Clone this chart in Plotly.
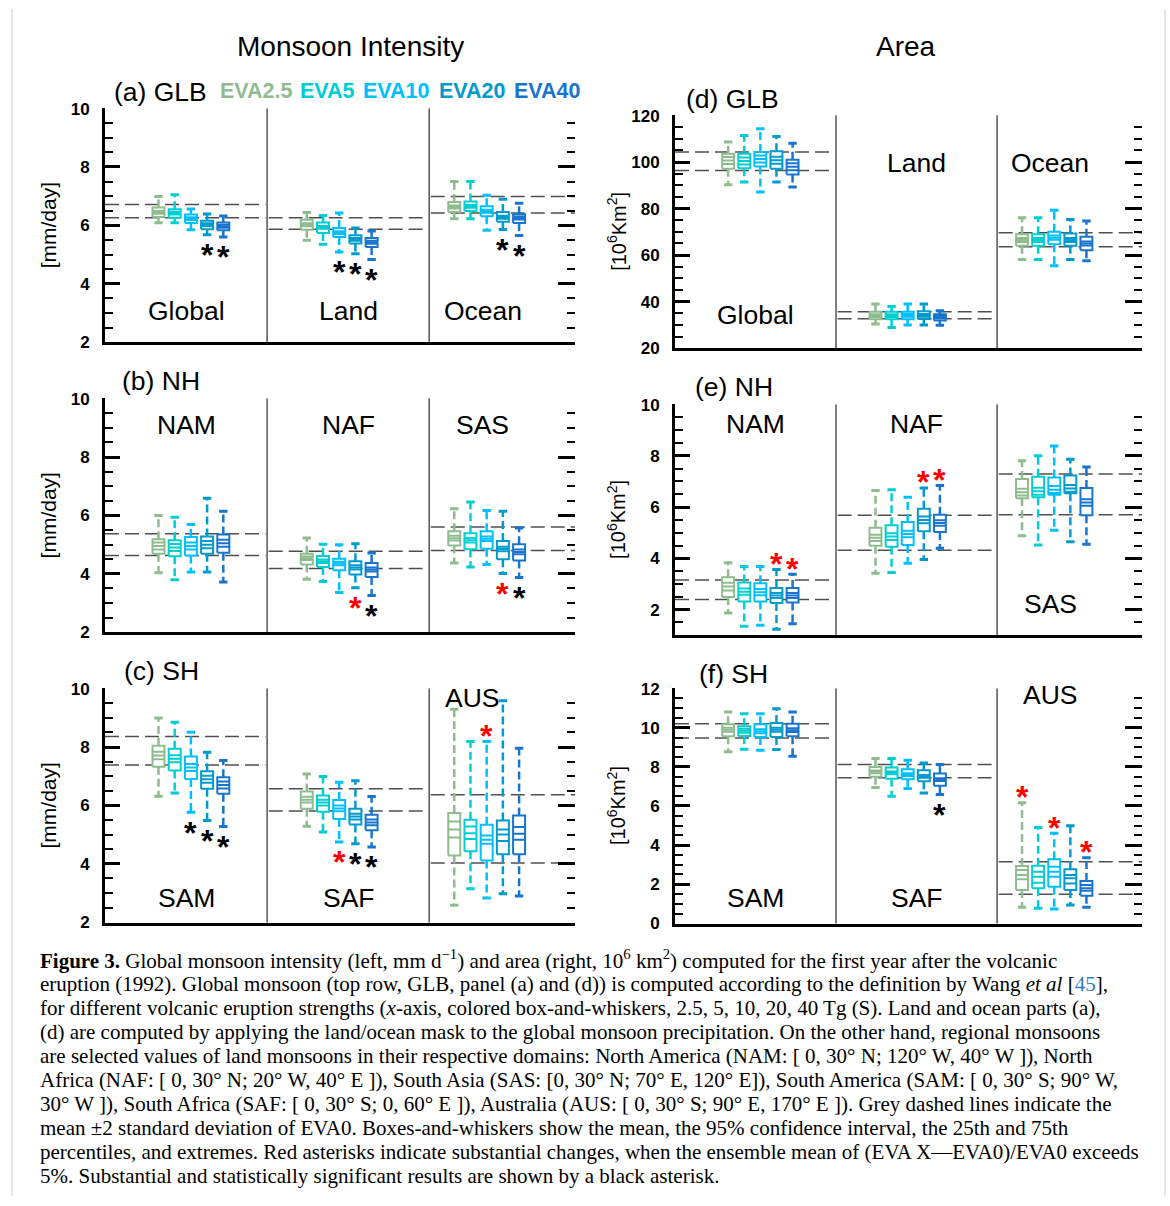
import plotly.graph_objects as go

W, H = 1170, 1206

# Vertical placement calibration: page rows y are placed at (y - ROW_OFFSET) / ROW_SCALE
ROW_OFFSET = 8.7
ROW_SCALE = 0.984


def px(x):
    return x / W


def py(y):
    return 1 - ((y - ROW_OFFSET) / ROW_SCALE) / H


EXPERIMENTS = ["EVA2.5", "EVA5", "EVA10", "EVA20", "EVA40"]
EXP_COLORS = ["#8fbc8f", "#00ced1", "#00bfff", "#009acd", "#1874cd"]

# Ensemble statistics per experiment (EVA2.5, EVA5, EVA10, EVA20, EVA40):
# (min, p25, ci_low, mean, ci_high, p75, max)

# ---- Monsoon intensity [mm/day] ----
INT_GLB_GLOBAL = [
    (6.09, 6.29, 6.40, 6.44, 6.49, 6.61, 6.99),
    (6.09, 6.26, 6.37, 6.42, 6.47, 6.55, 7.05),
    (5.85, 6.08, 6.18, 6.23, 6.28, 6.37, 6.56),
    (5.68, 5.87, 5.97, 6.02, 6.07, 6.16, 6.39),
    (5.60, 5.83, 5.92, 5.97, 6.02, 6.10, 6.32),
]
INT_GLB_LAND = [
    (5.49, 5.85, 5.97, 6.02, 6.07, 6.19, 6.44),
    (5.35, 5.74, 5.88, 5.93, 5.98, 6.10, 6.34),
    (5.09, 5.60, 5.70, 5.75, 5.80, 5.91, 6.42),
    (5.03, 5.38, 5.47, 5.52, 5.57, 5.66, 5.91),
    (4.83, 5.26, 5.37, 5.42, 5.47, 5.57, 5.81),
]
INT_GLB_OCEAN = [
    (6.23, 6.46, 6.58, 6.63, 6.68, 6.80, 7.50),
    (6.23, 6.49, 6.60, 6.65, 6.70, 6.82, 7.50),
    (5.83, 6.31, 6.43, 6.48, 6.53, 6.65, 7.03),
    (5.86, 6.12, 6.23, 6.28, 6.33, 6.46, 6.89),
    (5.65, 6.08, 6.20, 6.25, 6.30, 6.38, 6.76),
]
INT_NH_NAM = [
    (4.04, 4.69, 4.83, 4.95, 5.07, 5.18, 6.00),
    (3.80, 4.60, 4.78, 4.90, 5.02, 5.15, 5.94),
    (4.06, 4.63, 4.83, 4.95, 5.07, 5.26, 5.69),
    (4.06, 4.69, 4.88, 5.00, 5.12, 5.28, 6.59),
    (3.72, 4.72, 4.93, 5.05, 5.17, 5.35, 6.14),
]
INT_NH_NAF = [
    (3.81, 4.32, 4.47, 4.53, 4.59, 4.69, 5.23),
    (3.74, 4.23, 4.37, 4.43, 4.49, 4.61, 5.01),
    (3.36, 4.12, 4.29, 4.35, 4.41, 4.52, 5.00),
    (3.52, 3.98, 4.15, 4.22, 4.29, 4.43, 5.03),
    (3.26, 3.89, 4.08, 4.15, 4.22, 4.37, 4.71),
]
INT_NH_SAS = [
    (4.37, 4.97, 5.14, 5.22, 5.30, 5.46, 6.23),
    (4.23, 4.84, 5.07, 5.15, 5.23, 5.39, 6.46),
    (4.32, 4.86, 5.12, 5.20, 5.28, 5.46, 6.17),
    (4.01, 4.50, 4.77, 4.85, 4.93, 5.12, 6.14),
    (3.87, 4.46, 4.67, 4.75, 4.83, 5.01, 5.57),
]
INT_SH_SAM = [
    (6.32, 7.33, 7.58, 7.71, 7.84, 8.05, 9.00),
    (6.43, 7.20, 7.48, 7.60, 7.72, 7.94, 8.85),
    (5.77, 6.91, 7.18, 7.30, 7.42, 7.68, 8.51),
    (5.49, 6.57, 6.78, 6.90, 7.02, 7.17, 7.82),
    (5.28, 6.40, 6.58, 6.70, 6.82, 6.97, 7.54),
]
INT_SH_SAF = [
    (5.29, 5.89, 6.10, 6.20, 6.30, 6.48, 7.08),
    (5.09, 5.79, 6.00, 6.10, 6.20, 6.34, 6.99),
    (4.75, 5.54, 5.80, 5.90, 6.00, 6.19, 6.80),
    (4.69, 5.35, 5.52, 5.62, 5.72, 5.89, 6.85),
    (4.58, 5.15, 5.32, 5.42, 5.52, 5.68, 6.31),
]
INT_SH_AUS = [
    (2.58, 4.29, 4.90, 5.18, 5.45, 5.74, 9.30),
    (3.15, 4.43, 4.85, 5.05, 5.28, 5.51, 8.19),
    (2.83, 4.12, 4.69, 4.83, 4.97, 5.34, 8.19),
    (2.98, 4.33, 4.78, 5.01, 5.18, 5.49, 9.59),
    (2.90, 4.33, 4.83, 5.03, 5.26, 5.66, 7.96),
]

# ---- Monsoon area [10^6 km^2] ----
AREA_GLB_GLOBAL = [
    (90.3, 97.1, 99.2, 100.7, 102.2, 103.6, 108.6),
    (91.4, 97.4, 99.0, 100.5, 102.0, 103.6, 111.4),
    (87.1, 98.1, 99.8, 101.3, 102.8, 104.3, 114.3),
    (91.4, 97.1, 99.3, 100.8, 102.3, 104.7, 111.0),
    (89.3, 94.7, 96.5, 98.0, 99.5, 101.0, 108.1),
]
AREA_GLB_LAND = [
    (30.4, 32.4, 33.4, 34.0, 34.6, 35.6, 39.0),
    (28.9, 32.4, 33.4, 34.0, 34.6, 35.6, 37.9),
    (30.0, 32.4, 33.5, 34.1, 34.7, 35.6, 39.0),
    (30.0, 32.5, 33.5, 34.1, 34.7, 35.9, 39.0),
    (29.9, 31.9, 32.7, 33.2, 33.8, 34.6, 36.1),
]
AREA_GLB_OCEAN = [
    (58.1, 64.0, 65.6, 66.5, 67.4, 69.0, 76.1),
    (58.1, 64.0, 65.6, 66.5, 67.4, 69.0, 76.1),
    (55.4, 64.7, 66.6, 67.5, 68.4, 70.0, 79.3),
    (58.1, 64.0, 65.6, 66.5, 67.4, 69.3, 75.3),
    (57.6, 62.1, 64.1, 65.0, 65.9, 67.9, 74.7),
]
AREA_NH_NAM = [
    (1.87, 2.49, 2.75, 2.90, 3.05, 3.26, 3.83),
    (1.35, 2.32, 2.58, 2.70, 2.82, 3.06, 3.68),
    (1.39, 2.32, 2.56, 2.68, 2.80, 3.03, 3.68),
    (1.23, 2.26, 2.45, 2.55, 2.65, 2.84, 3.57),
    (1.45, 2.28, 2.45, 2.55, 2.65, 2.84, 3.38),
]
AREA_NH_NAF = [
    (3.42, 4.49, 4.68, 4.80, 4.92, 5.19, 6.65),
    (3.45, 4.45, 4.72, 4.85, 4.98, 5.29, 6.68),
    (3.81, 4.52, 4.82, 4.95, 5.08, 5.42, 6.39),
    (3.96, 5.06, 5.37, 5.50, 5.63, 5.94, 6.75),
    (4.39, 5.03, 5.27, 5.38, 5.49, 5.70, 6.84),
]
AREA_NH_SAS = [
    (4.88, 6.35, 6.45, 6.58, 6.72, 7.10, 7.81),
    (4.52, 6.39, 6.48, 6.62, 6.76, 7.19, 8.00),
    (5.10, 6.48, 6.55, 6.68, 6.82, 7.16, 8.39),
    (4.65, 6.54, 6.60, 6.73, 6.86, 7.23, 7.87),
    (4.55, 5.68, 6.05, 6.18, 6.31, 6.75, 7.57),
]
AREA_SH_SAM = [
    (8.77, 9.57, 9.80, 9.90, 10.00, 10.18, 10.81),
    (8.90, 9.58, 9.75, 9.85, 9.95, 10.08, 10.72),
    (8.85, 9.53, 9.72, 9.82, 9.92, 10.18, 10.72),
    (8.89, 9.53, 9.80, 9.90, 10.00, 10.25, 10.98),
    (8.54, 9.57, 9.78, 9.88, 9.98, 10.21, 10.81),
]
AREA_SH_SAF = [
    (6.94, 7.49, 7.68, 7.75, 7.82, 8.00, 8.43),
    (6.50, 7.40, 7.63, 7.70, 7.77, 7.97, 8.43),
    (6.89, 7.37, 7.53, 7.60, 7.67, 7.88, 8.34),
    (6.67, 7.27, 7.45, 7.52, 7.59, 7.83, 8.20),
    (6.59, 7.03, 7.28, 7.35, 7.42, 7.66, 8.12),
]
AREA_SH_AUS = [
    (0.82, 1.70, 2.25, 2.47, 2.72, 2.93, 6.16),
    (0.77, 1.79, 2.08, 2.38, 2.64, 2.94, 4.90),
    (0.73, 1.87, 2.38, 2.64, 2.89, 3.28, 4.60),
    (0.94, 1.70, 2.04, 2.30, 2.47, 2.77, 4.99),
    (0.82, 1.41, 1.67, 1.79, 1.96, 2.16, 3.35),
]

# EVA0 mean -2 sd / +2 sd
EVA0_BANDS = {
    "INT_GLB": [(6.26, 6.71), (5.87, 6.26), (6.42, 6.99)],
    "INT_NH": [(4.63, 5.37), (4.18, 4.77), (4.80, 5.60)],
    "INT_SH": [(7.39, 8.36), (5.81, 6.57), (4.03, 6.37)],
    "AREA_GLB": [(96.4, 104.3), (32.6, 35.7), (63.6, 69.6)],
    "AREA_NH": [(2.39, 3.16), (4.32, 5.68), (5.70, 7.29)],
    "AREA_SH": [(9.48, 10.21), (7.44, 8.12), (1.48, 3.15)],
}

# Change flags per experiment: r = substantial, k = substantial and significant;
# "+" drawn above the upper whisker, "-" below the lower whisker
SIG_FLAGS = {
    "INT_GLB": [["", "", "", "k-", "k-"], ["", "", "k-", "k-", "k-"], ["", "", "", "k-", "k-"]],
    "INT_NH": [["", "", "", "", ""], ["", "", "", "r-", "k-"], ["", "", "", "r-", "k-"]],
    "INT_SH": [["", "", "k-", "k-", "k-"], ["", "", "r-", "k-", "k-"], ["", "", "r+", "", ""]],
    "AREA_GLB": [["", "", "", "", ""], ["", "", "", "", ""], ["", "", "", "", ""]],
    "AREA_NH": [["", "", "", "r+", "r+"], ["", "", "", "r+", "r+"], ["", "", "", "", ""]],
    "AREA_SH": [["", "", "", "", ""], ["", "", "", "", "k-"], ["r+", "", "r+", "", "r+"]],
}

REGION_NAMES = {
    "INT_GLB": ["Global", "Land", "Ocean"],
    "INT_NH": ["NAM", "NAF", "SAS"],
    "INT_SH": ["SAM", "SAF", "AUS"],
    "AREA_GLB": ["Global", "Land", "Ocean"],
    "AREA_NH": ["NAM", "NAF", "SAS"],
    "AREA_SH": ["SAM", "SAF", "AUS"],
}

Y_TICKS = {
    # range, major step, minor step
    "INT_GLB": ((2, 10), 2, 0.5),
    "INT_NH": ((2, 10), 2, 0.5),
    "INT_SH": ((2, 10), 2, 0.5),
    "AREA_GLB": ((20, 120), 20, 5),
    "AREA_NH": ((1, 10), 2, 0.5),
    "AREA_SH": ((0, 12), 2, 0.5),
}

PANEL_TITLES = {
    "INT_GLB": "(a) GLB", "INT_NH": "(b) NH", "INT_SH": "(c) SH",
    "AREA_GLB": "(d) GLB", "AREA_NH": "(e) NH", "AREA_SH": "(f) SH",
}

PANEL_DATA = {
    "INT_GLB": [INT_GLB_GLOBAL, INT_GLB_LAND, INT_GLB_OCEAN],
    "INT_NH": [INT_NH_NAM, INT_NH_NAF, INT_NH_SAS],
    "INT_SH": [INT_SH_SAM, INT_SH_SAF, INT_SH_AUS],
    "AREA_GLB": [AREA_GLB_GLOBAL, AREA_GLB_LAND, AREA_GLB_OCEAN],
    "AREA_NH": [AREA_NH_NAM, AREA_NH_NAF, AREA_NH_SAS],
    "AREA_SH": [AREA_SH_SAM, AREA_SH_SAF, AREA_SH_AUS],
}

# ---------------- layout geometry (page pixels) ----------------
FONT = "Liberation Sans, Arial, sans-serif"
SERIF = "Liberation Serif, Times New Roman, serif"

COL_X = [(105, 575), (675, 1142)]
PANEL_BOX = {
    "INT_GLB": (0, 108, 342), "INT_NH": (0, 398, 632), "INT_SH": (0, 688, 922),
    "AREA_GLB": (1, 115, 348), "AREA_NH": (1, 404, 635), "AREA_SH": (1, 688, 923),
}
TITLE_POS = {
    "INT_GLB": (112, 92), "INT_NH": (120, 381), "INT_SH": (122, 671),
    "AREA_GLB": (684, 99), "AREA_NH": (693, 387), "AREA_SH": (697, 674),
}
# region-name label placement (x in axis units, y in data units)
LABEL_POS = {
    "INT_GLB": [(5.0, 3.05), (15.05, 3.05), (23.3, 3.05)],
    "INT_NH": [(5.0, 9.08), (15.05, 9.08), (23.3, 9.08)],
    "INT_SH": [(5.0, 2.82), (15.05, 2.82), (22.7, 9.69)],
    "AREA_GLB": [(5.0, 34.2), (15.0, 99.7), (23.3, 99.7)],
    "AREA_NH": [(5.0, 9.25), (15.0, 9.25), (23.3, 2.2)],
    "AREA_SH": [(5.0, 1.3), (15.0, 1.3), (23.3, 11.7)],
}

X_RANGE = (0, 29)
SEPARATORS = [10, 20]
GROUP_SPAN = [(0.0, 9.9), (10.1, 19.9), (20.1, 29.0)]
GROUP_CENTERS = [5.3, 14.45, 23.55]
BOX_STEP = 1.0
BOX_HALF = 0.37
STAR_GAP = 13
STAR_SIZE = 32

fig = go.Figure()
annotations = []
shapes = []
layout_axes = {}

for idx, key in enumerate(PANEL_DATA, start=1):
    sfx = "" if idx == 1 else str(idx)
    xname, yname = "x" + sfx, "y" + sfx
    col, top, bot = PANEL_BOX[key]
    x0, x1 = COL_X[col]
    (ylo, yhi), dmaj, dmin = Y_TICKS[key]
    eps = (yhi - ylo) * 0.001
    yrange = [ylo - eps, yhi + eps]

    layout_axes["xaxis" + sfx] = dict(
        domain=[px(x0), px(x1)], range=list(X_RANGE), anchor=yname,
        showline=True, linewidth=3, linecolor="black", ticks="",
        showticklabels=False, showgrid=False, zeroline=False, fixedrange=True,
    )
    layout_axes["yaxis" + sfx] = dict(
        domain=[py(bot), py(top)], range=yrange, anchor=xname,
        showline=True, linewidth=3, linecolor="black",
        ticks="inside", ticklen=15, tickwidth=3, tickcolor="black",
        tick0=0, dtick=dmaj,
        minor=dict(ticks="inside", ticklen=8, tickwidth=2, tickcolor="black",
                   tick0=0, dtick=dmin, showgrid=False),
        tickfont=dict(family=FONT, size=17, color="black", weight="bold"),
        ticklabelstandoff=9,
        showgrid=False, zeroline=False, fixedrange=True,
    )
    # tick marks on the right-hand side
    ridx = idx + 6
    layout_axes["yaxis" + str(ridx)] = dict(
        overlaying=yname, side="right", anchor=xname, range=yrange,
        showline=False, ticks="inside", ticklen=17, tickwidth=3, tickcolor="black",
        tick0=0, dtick=dmaj,
        minor=dict(ticks="inside", ticklen=8, tickwidth=2, tickcolor="black",
                   tick0=0, dtick=dmin, showgrid=False),
        showticklabels=False, showgrid=False, zeroline=False, fixedrange=True,
    )
    fig.add_trace(go.Scatter(x=[None], y=[None], xaxis=xname, yaxis="y" + str(ridx),
                             showlegend=False, hoverinfo="skip"))

    # region separators
    for sx in SEPARATORS:
        shapes.append(dict(type="line", xref=xname, yref=yname + " domain",
                           x0=sx, x1=sx, y0=0, y1=1,
                           line=dict(color="black", width=1)))

    # EVA0 +/- 2 sd bands
    for g, (blo, bhi) in enumerate(EVA0_BANDS[key]):
        gx0, gx1 = GROUP_SPAN[g]
        for yv in (blo, bhi):
            shapes.append(dict(type="line", xref=xname, yref=yname, layer="below",
                               x0=gx0, x1=gx1, y0=yv, y1=yv,
                               line=dict(color="#505050", width=1.5, dash="14px,6px")))

    # box-and-whisker glyphs, one set of traces per experiment colour
    for k, color in enumerate(EXP_COLORS):
        wx, wy, bx, by, lx, ly, cx, cy = [], [], [], [], [], [], [], []
        for g, region in enumerate(PANEL_DATA[key]):
            vmin, p25, clo, mean, chi, p75, vmax = region[k]
            xc = GROUP_CENTERS[g] + (k - 2) * BOX_STEP
            wx += [xc, xc, None, xc, xc, None]
            wy += [p75, vmax, None, p25, vmin, None]
            bx += [xc - BOX_HALF, xc + BOX_HALF, xc + BOX_HALF, xc - BOX_HALF, xc - BOX_HALF, None]
            by += [p25, p25, p75, p75, p25, None]
            for yv in (clo, mean, chi):
                lx += [xc - BOX_HALF, xc + BOX_HALF, None]
                ly += [yv, yv, None]
            cx += [xc, xc]
            cy += [vmin, vmax]

            flag = SIG_FLAGS[key][g][k]
            if flag:
                above = flag[1] == "+"
                glyph_off = 0.23 * STAR_SIZE
                annotations.append(dict(
                    x=xc, y=vmax if above else vmin, xref=xname, yref=yname,
                    text="*", showarrow=False, xanchor="center", yanchor="middle",
                    yshift=(STAR_GAP if above else -STAR_GAP) - glyph_off,
                    font=dict(family=FONT, size=STAR_SIZE, weight="bold",
                              color="#ff0000" if flag[0] == "r" else "#000000"),
                ))

        common = dict(xaxis=xname, yaxis=yname, showlegend=False, hoverinfo="skip")
        fig.add_trace(go.Scatter(x=wx, y=wy, mode="lines",
                                 line=dict(color=color, width=2.5, dash="8px,4px"), **common))
        fig.add_trace(go.Scatter(x=bx, y=by, mode="lines", fill="toself", fillcolor="white",
                                 line=dict(color=color, width=2), **common))
        fig.add_trace(go.Scatter(x=lx, y=ly, mode="lines",
                                 line=dict(color=color, width=2), **common))
        fig.add_trace(go.Scatter(x=cx, y=cy, mode="markers",
                                 marker=dict(symbol="line-ew", size=6, color=color,
                                             line=dict(color=color, width=3)), **common))

    # region names
    for name, (lxv, lyv) in zip(REGION_NAMES[key], LABEL_POS[key]):
        annotations.append(dict(x=lxv, y=lyv, xref=xname, yref=yname, text=name,
                                showarrow=False, xanchor="center", yanchor="middle",
                                font=dict(family=FONT, size=26.5, color="black")))

    # panel title
    tx, ty = TITLE_POS[key]
    annotations.append(dict(x=px(tx), y=py(ty), xref="paper", yref="paper",
                            text=PANEL_TITLES[key], showarrow=False,
                            xanchor="left", yanchor="middle",
                            font=dict(family=FONT, size=26.5, color="black")))

    # y-axis title
    ylab = "[mm/day]" if col == 0 else "[10<sup>6</sup>Km<sup>2</sup>]"
    annotations.append(dict(x=px(48 if col == 0 else 617), y=py((top + bot) / 2),
                            xref="paper", yref="paper", text=ylab, textangle=-90,
                            showarrow=False, xanchor="center", yanchor="middle",
                            font=dict(family=FONT, size=21 if col == 0 else 20, color="black")))

# column headings
for text, cxp in (("Monsoon Intensity", 350), ("Area", 906)):
    annotations.append(dict(x=px(cxp), y=py(46), xref="paper", yref="paper", text=text,
                            showarrow=False, xanchor="center", yanchor="middle",
                            font=dict(family=FONT, size=28, color="black")))

# experiment key
LEGEND_X = [218, 298, 361, 437, 512]
for name, color, lxp in zip(EXPERIMENTS, EXP_COLORS, LEGEND_X):
    annotations.append(dict(x=px(lxp), y=py(91), xref="paper", yref="paper", text=name,
                            showarrow=False, xanchor="left", yanchor="middle",
                            font=dict(family=FONT, size=21.5, color=color, weight="bold")))

# caption
CAPTION = [
    "<b>Figure 3.</b> Global monsoon intensity (left, mm d<sup>\u22121</sup>) and area (right, 10<sup>6</sup> km<sup>2</sup>) computed for the first year after the volcanic",
    "eruption (1992). Global monsoon (top row, GLB, panel (a) and (d)) is computed according to the definition by Wang <i>et al</i> [<span style='color:#2f7fc1'>45</span>],",
    "for different volcanic eruption strengths (<i>x</i>-axis, colored box-and-whiskers, 2.5, 5, 10, 20, 40 Tg (S). Land and ocean parts (a),",
    "(d) are computed by applying the land/ocean mask to the global monsoon precipitation. On the other hand, regional monsoons",
    "are selected values of land monsoons in their respective domains: North America (NAM: [ 0, 30\u00b0 N; 120\u00b0 W, 40\u00b0 W ]), North",
    "Africa (NAF: [ 0, 30\u00b0 N; 20\u00b0 W, 40\u00b0 E ]), South Asia (SAS: [0, 30\u00b0 N; 70\u00b0 E, 120\u00b0 E]), South America (SAM: [ 0, 30\u00b0 S; 90\u00b0 W,",
    "30\u00b0 W ]), South Africa (SAF: [ 0, 30\u00b0 S; 0, 60\u00b0 E ]), Australia (AUS: [ 0, 30\u00b0 S; 90\u00b0 E, 170\u00b0 E ]). Grey dashed lines indicate the",
    "mean \u00b12 standard deviation of EVA0. Boxes-and-whiskers show the mean, the 95% confidence interval, the 25th and 75th",
    "percentiles, and extremes. Red asterisks indicate substantial changes, when the ensemble mean of (EVA X\u2014EVA0)/EVA0 exceeds",
    "5%. Substantial and statistically significant results are shown by a black asterisk.",
]
for i, line in enumerate(CAPTION):
    annotations.append(dict(x=px(38), y=py(959 + 24 * i), xref="paper", yref="paper",
                            text=line, showarrow=False, xanchor="left", yanchor="middle",
                            font=dict(family=SERIF, size=21, color="black")))

# page frame
for fx in (12, 1165):
    shapes.append(dict(type="line", xref="paper", yref="paper", x0=px(fx), x1=px(fx),
                       y0=0, y1=1, line=dict(color="#cfcfcf", width=1)))

fig.update_layout(
    width=W, height=H, autosize=False,
    margin=dict(l=0, r=0, t=0, b=0),
    paper_bgcolor="white", plot_bgcolor="rgba(0,0,0,0)",
    showlegend=False, annotations=annotations, shapes=shapes,
    **layout_axes,
)

fig.write_html("out.html", config={"displayModeBar": False})
